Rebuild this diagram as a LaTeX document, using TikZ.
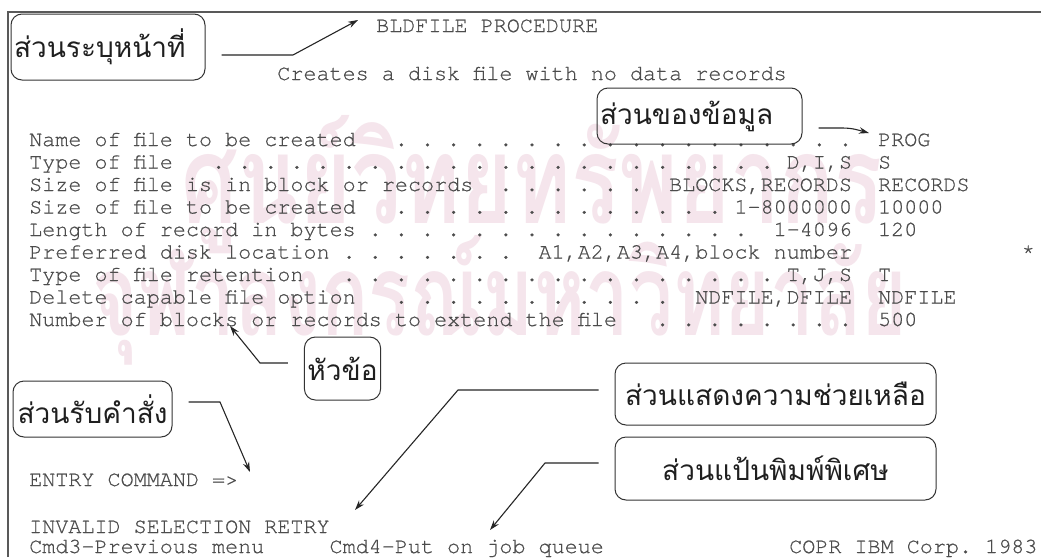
\documentclass[tikz,border=0pt]{standalone}
\usepackage{fontspec}
\usepackage{graphicx}
\usetikzlibrary{arrows.meta}
\newfontfamily\scr[FakeBold=0.6]{texgyrecursor-regular.otf}
\newfontfamily\thai[Script=Thai]{Loma}
\definecolor{ink}{gray}{0.3}
\definecolor{wmark}{RGB}{245,229,236}
% a run of n leader dots, one column apart
\newcommand\dotrun[1]{\begingroup\count255=#1\relax
  \loop.\advance\count255 by -1\relax\ifnum\count255>0 \ \repeat\endgroup}
\begin{document}
\begin{tikzpicture}[x=1pt,y=-1pt,
  scr/.style={anchor=base west, inner sep=0pt,
    font=\scr\fontsize{21.77}{24}\selectfont\frenchspacing, text=ink},
  lbl/.style={draw=black!80, line width=1pt, rounded corners=11pt,
    inner xsep=3pt, inner ysep=0pt, font=\thai\fontsize{28}{30}\selectfont,
    text=black!88},
  conn/.style={draw=black!85, line width=1.1pt,
    -{Stealth[length=10pt,width=6.5pt]}, shorten <=16pt},
  frame/.style={draw=black!65, line width=1.8pt}]
\def\cw{13.06}
\useasboundingbox (0,0) rectangle (1041,557);
\fill[white] (0,0) rectangle (1041,557);

% faint background lettering
\node[text=wmark, inner sep=0pt] (wm1) at (532,185)
  {\resizebox{700pt}{108pt}{\thai\bfseries ศูนย์วิทยทรัพยากร}};
\node[text=wmark, inner sep=0pt] (wm2) at (500,300)
  {\resizebox{815pt}{100pt}{\thai\bfseries จุฬาลงกรณ์มหาวิทยาลัย}};

% screen border
\draw[frame] (8,557) -- (8,12) -- (1041,12);

% screen text
\node[scr] (title) at (376,32) {BLDFILE PROCEDURE};
\node[scr] (sub) at ({29+19*\cw},80) {Creates a disk file with no data records};

\node[scr] (l1) at (29,146) {Name of file to be created};
\node[scr] (d1) at ({29+28*\cw},146) {\dotrun{18}};
\node[scr] (v1) at ({29+65*\cw},146) {PROG};

\node[scr] (l2) at (29,168.5) {Type of file};
\node[scr] (d2) at ({29+14*\cw},168.5) {\dotrun{22}~D,I,S};
\node[scr] (v2) at ({29+65*\cw},168.5) {S};

\node[scr] (l3) at (29,191) {Size of file is in block or records};
\node[scr] (d3) at ({29+36*\cw},191) {\dotrun{6}~~BLOCKS,RECORDS};
\node[scr] (v3) at ({29+65*\cw},191) {RECORDS};

\node[scr] (l4) at (29,213.5) {Size of file to be created};
\node[scr] (d4) at ({29+28*\cw},213.5) {\dotrun{13}~1-8000000};
\node[scr] (v4) at ({29+65*\cw},213.5) {10000};

\node[scr] (l5) at (29,236) {Length of record in bytes};
\node[scr] (d5) at ({29+26*\cw},236) {\dotrun{15}~~1-4096};
\node[scr] (v5) at ({29+65*\cw},236) {120};

\node[scr] (l6) at (29,258.5) {Preferred disk location};
\node[scr] (d6) at ({29+24*\cw},258.5) {\dotrun{7}~~A1,A2,A3,A4,block number};
\node[scr] (star) at ({29+76*\cw},258.5) {*};

\node[scr] (l7) at (29,281) {Type of file retention};
\node[scr] (d7) at ({29+24*\cw},281) {\dotrun{17}~T,J,S};
\node[scr] (v7) at ({29+65*\cw},281) {T};

\node[scr] (l8) at (29,303.5) {Delete capable file option};
\node[scr] (d8) at ({29+28*\cw},303.5) {\dotrun{11}~~NDFILE,DFILE};
\node[scr] (v8) at ({29+65*\cw},303.5) {NDFILE};

\node[scr] (l9) at (29,326) {Number of blocks or records to extend the file};
\node[scr] (d9) at ({29+48*\cw},326) {\dotrun{8}};
\node[scr] (v9) at ({29+65*\cw},326) {500};

\node[scr] (entry) at (29,486) {ENTRY COMMAND =>};
\node[scr] (msg) at (29,533) {INVALID SELECTION RETRY};
\node[scr] (cmd3) at (29,553) {Cmd3-Previous menu};
\node[scr] (cmd4) at ({29+23*\cw},553) {Cmd4-Put on job queue};
\node[scr] (copr) at (789,553) {COPR IBM Corp. 1983};

% callout boxes
\node[lbl, text width=188pt, align=left, minimum height=66pt] (b1) at (108,47) {ส่วนระบุหน้าที่};
\node[lbl, text width=199pt, align=left, minimum height=56pt] (b2) at (699.5,116) {ส่วนของข้อมูล};
\node[lbl, minimum width=75pt, minimum height=63pt] (b3) at (342.5,368.5) {หัวข้อ};
\node[lbl, minimum width=159pt, minimum height=56pt] (b4) at (92.5,409) {ส่วนรับคำสั่ง};
\node[lbl, minimum width=321pt, minimum height=62pt] (b5) at (775.5,394) {ส่วนแสดงความช่วยเหลือ};
\node[lbl, minimum width=321pt, minimum height=63pt] (b6) at (775.5,468.5) {ส่วนแป้นพิมพ์พิเศษ};

% connector bends and tips
\coordinate (k1) at (293,55);   \coordinate (t1) at (358,20);
\coordinate (k2) at (842,128);  \coordinate (t2) at (869,133);
\coordinate (k3) at (260,363);  \coordinate (t3) at (230,326);
\coordinate (k4) at (220,402);  \coordinate (t4) at (250,472);
\coordinate (k5) at (458,390);  \coordinate (t5) at (355,510);
\coordinate (k6) at (545,463);  \coordinate (t6) at (490,530);

\draw[conn] (b1.east |- k1) -- (k1) -- (t1);
\draw[conn] (b2.east |- k2) -- (k2) to[out=0,in=165] (t2);
\draw[conn] (b3.west |- k3) -- (k3) -- (t3);
\draw[conn] (b4.east |- k4) -- (k4) -- (t4);
\draw[conn] (b5.west |- k5) -- (k5) -- (t5);
\draw[conn] (b6.west |- k6) -- (k6) -- (t6);
\end{tikzpicture}
\end{document}
